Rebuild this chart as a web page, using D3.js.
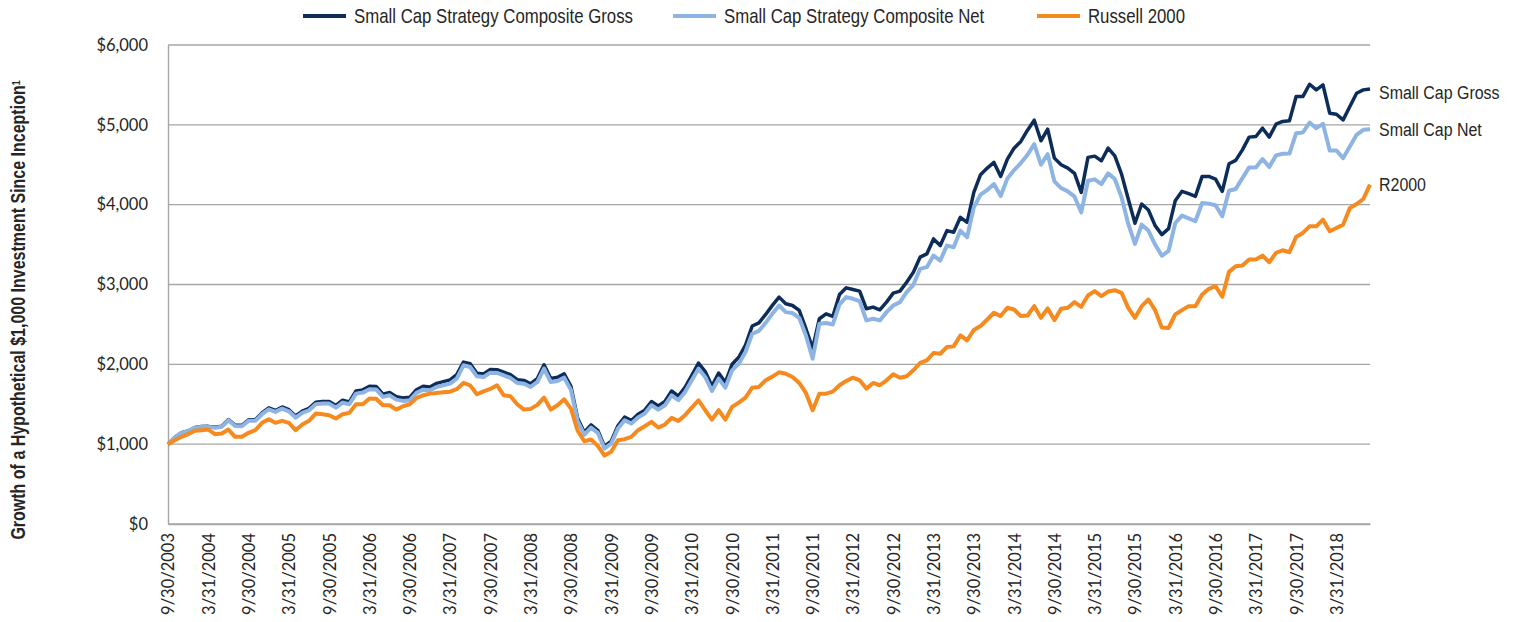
<!DOCTYPE html>
<html>
<head>
<meta charset="utf-8">
<script src="https://cdn.jsdelivr.net/npm/d3@7"></script>
<style>
  html, body { margin: 0; padding: 0; background: #fff; }
  svg { display: block; }
  .cond { font-family: "Liberation Sans", Arial, sans-serif; fill: #262626; }
  .tick text { font-family: Lato, "Open Sans", sans-serif; fill: #262626; }
</style>
</head>
<body>
<div id="chart"></div>
<script>
// ========== DATA ==========

// month-end categories, 9/30/2003 .. 8/31/2018
const fmtDate = d3.utcFormat('%-m/%-d/%Y');
const categories = d3.utcMonth.range(new Date(Date.UTC(2003, 8, 1)), new Date(Date.UTC(2018, 8, 1)))
  .map(m => fmtDate(d3.utcDay.offset(d3.utcMonth.offset(m, 1), -1)));

const tickLabels = [
  '9/30/2003', '3/31/2004', '9/30/2004', '3/31/2005', '9/30/2005', '3/31/2006',
  '9/30/2006', '3/31/2007', '9/30/2007', '3/31/2008', '9/30/2008', '3/31/2009',
  '9/30/2009', '3/31/2010', '9/30/2010', '3/31/2011', '9/30/2011', '3/31/2012',
  '9/30/2012', '3/31/2013', '9/30/2013', '3/31/2014', '9/30/2014', '3/31/2015',
  '9/30/2015', '3/31/2016', '9/30/2016', '3/31/2017', '9/30/2017', '3/31/2018'
];

const yTicks = [0, 1000, 2000, 3000, 4000, 5000, 6000];

const grossValues = [
  1000, 1084, 1144, 1165, 1208, 1222, 1223, 1211, 1225, 1309, 1239, 1236,
  1305, 1306, 1391, 1455, 1422, 1466, 1432, 1353, 1414, 1448, 1525, 1534,
  1535, 1485, 1550, 1529, 1666, 1680, 1724, 1723, 1627, 1648, 1594, 1578,
  1587, 1682, 1725, 1717, 1761, 1783, 1805, 1871, 2028, 2007, 1888, 1880,
  1936, 1933, 1903, 1870, 1807, 1799, 1757, 1821, 1993, 1823, 1837, 1880,
  1724, 1324, 1150, 1241, 1174, 973, 1037, 1231, 1339, 1296, 1374, 1426,
  1534, 1479, 1536, 1666, 1603, 1711, 1863, 2016, 1909, 1729, 1890, 1774,
  2000, 2088, 2241, 2480, 2520, 2625, 2738, 2842, 2758, 2737, 2675, 2446,
  2200, 2571, 2633, 2600, 2875, 2958, 2937, 2917, 2696, 2717, 2683, 2779,
  2892, 2917, 3029, 3154, 3342, 3383, 3571, 3488, 3675, 3654, 3842, 3779,
  4154, 4375, 4458, 4529, 4354, 4571, 4708, 4792, 4933, 5058, 4800, 4946,
  4583, 4500, 4458, 4392, 4154, 4592, 4608, 4550, 4708, 4612, 4383, 4071,
  3767, 4008, 3933, 3738, 3625, 3700, 4050, 4167, 4138, 4104, 4354, 4354,
  4321, 4167, 4512, 4554, 4687, 4846, 4854, 4958, 4846, 5008, 5042, 5050,
  5354, 5354, 5508, 5438, 5500, 5146, 5133, 5062, 5229, 5396, 5438, 5450
];

const netValues = [
  1000, 1083, 1142, 1163, 1204, 1217, 1217, 1204, 1217, 1300, 1229, 1225,
  1292, 1292, 1375, 1437, 1404, 1446, 1412, 1333, 1392, 1425, 1500, 1508,
  1508, 1458, 1521, 1500, 1633, 1646, 1688, 1686, 1592, 1612, 1558, 1542,
  1550, 1642, 1683, 1675, 1717, 1737, 1758, 1821, 1988, 1967, 1850, 1842,
  1896, 1892, 1862, 1829, 1767, 1758, 1717, 1779, 1946, 1779, 1792, 1833,
  1680, 1290, 1120, 1208, 1142, 946, 1008, 1196, 1300, 1258, 1333, 1383,
  1487, 1433, 1487, 1612, 1550, 1654, 1800, 1946, 1842, 1667, 1821, 1708,
  1925, 2008, 2154, 2383, 2420, 2520, 2633, 2737, 2654, 2642, 2583, 2362,
  2070, 2508, 2517, 2500, 2750, 2842, 2821, 2792, 2550, 2571, 2550, 2654,
  2737, 2779, 2904, 2996, 3196, 3217, 3362, 3300, 3487, 3467, 3675, 3592,
  3967, 4125, 4183, 4258, 4108, 4329, 4433, 4521, 4625, 4758, 4500, 4633,
  4292, 4208, 4167, 4100, 3904, 4300, 4317, 4258, 4392, 4321, 4092, 3758,
  3508, 3750, 3675, 3500, 3360, 3420, 3770, 3863, 3829, 3792, 4021, 4013,
  3992, 3854, 4175, 4196, 4333, 4467, 4467, 4571, 4471, 4617, 4637, 4640,
  4896, 4904, 5029, 4958, 5012, 4679, 4679, 4583, 4729, 4875, 4938, 4946
];

const russellValues = [
  1000, 1050, 1092, 1125, 1167, 1175, 1183, 1125, 1133, 1183, 1092, 1092,
  1142, 1175, 1267, 1313, 1267, 1292, 1267, 1175, 1246, 1292, 1383, 1375,
  1363, 1321, 1375, 1392, 1500, 1500, 1571, 1569, 1488, 1488, 1433, 1475,
  1500, 1579, 1612, 1633, 1642, 1650, 1658, 1688, 1767, 1737, 1625, 1662,
  1692, 1737, 1612, 1600, 1500, 1433, 1442, 1492, 1583, 1433, 1488, 1562,
  1446, 1170, 1037, 1058, 979, 858, 904, 1050, 1063, 1092, 1175, 1225,
  1279, 1208, 1246, 1329, 1292, 1363, 1458, 1550, 1425, 1308, 1425, 1308,
  1467, 1521, 1583, 1708, 1717, 1800, 1846, 1900, 1883, 1842, 1767, 1642,
  1425, 1633, 1633, 1658, 1738, 1792, 1833, 1800, 1696, 1767, 1738, 1800,
  1875, 1833, 1850, 1925, 2017, 2050, 2142, 2133, 2217, 2225, 2362, 2300,
  2430, 2479, 2562, 2646, 2604, 2708, 2687, 2604, 2612, 2729, 2583, 2700,
  2554, 2696, 2708, 2779, 2721, 2862, 2917, 2854, 2912, 2929, 2896, 2708,
  2583, 2729, 2812, 2679, 2460, 2455, 2625, 2679, 2729, 2729, 2875, 2946,
  2979, 2846, 3158, 3229, 3237, 3312, 3312, 3362, 3279, 3396, 3429, 3404,
  3596, 3646, 3729, 3729, 3812, 3667, 3708, 3750, 3958, 4008, 4071, 4250
];

const seriesNames = ['Small Cap Strategy Composite Gross', 'Small Cap Strategy Composite Net', 'Russell 2000'];
const endLabels = ['Small Cap Gross', 'Small Cap Net', 'R2000'];
const colors = ['#0c2c5a', '#8eb4e3', '#f68a1e'];

// ========== CHART ==========

const W = 1516, H = 622;
const margin = { top: 45, right: 146, bottom: 98, left: 168 };
const SQUEEZE = 0.84; // fake a condensed face

const svg = d3.select('#chart').append('svg').attr('width', W).attr('height', H);
svg.append('rect').attr('width', W).attr('height', H).attr('fill', '#fff');

const x = d3.scalePoint().domain(categories).range([margin.left, W - margin.right]);
const y = d3.scaleLinear().domain([0, 6000]).range([H - margin.bottom, margin.top]);

// Grid
svg.append('g').selectAll('line').data(yTicks).enter().append('line')
  .attr('x1', margin.left).attr('x2', W - margin.right)
  .attr('y1', d => y(d)).attr('y2', d => y(d))
  .attr('stroke', '#a6a6a6').attr('stroke-width', 1.4);

// Axes
const yAxis = svg.append('g').attr('transform', `translate(${margin.left},0)`)
  .call(d3.axisLeft(y).tickValues(yTicks).tickSize(0).tickPadding(20).tickFormat(d => '$' + d3.format(',')(d)));
yAxis.selectAll('text').style('font-size', '16.5px');
yAxis.select('.domain').attr('stroke', '#a6a6a6').attr('stroke-width', 1.4);

const xAxis = svg.append('g').attr('transform', `translate(0,${H - margin.bottom})`)
  .call(d3.axisBottom(x).tickValues(tickLabels).tickSize(0));
xAxis.select('.domain').attr('stroke', '#a6a6a6').attr('stroke-width', 1.4);
xAxis.selectAll('text')
  .attr('transform', 'rotate(-90)')
  .attr('text-anchor', 'end')
  .attr('x', -9).attr('y', 0).attr('dy', '0.36em')
  .style('font-size', '16.5px');

// Lines
const allSeries = [grossValues, netValues, russellValues];
const widths = [3.5, 4, 4];
const line = d3.line().x((d, i) => x(categories[i])).y(d => y(d));
allSeries.forEach((vals, k) => {
  svg.append('path').datum(vals)
    .attr('fill', 'none').attr('stroke', colors[k]).attr('stroke-width', widths[k])
    .attr('stroke-linejoin', 'round').attr('d', line);
});

// End labels
const endOffsets = [3, 0, 0];
allSeries.forEach((vals, k) => {
  svg.append('text').attr('class', 'cond')
    .attr('transform', `translate(${W - margin.right + 9},${y(vals[vals.length - 1]) + endOffsets[k]}) scale(${SQUEEZE},1)`)
    .attr('dy', '0.35em').text(endLabels[k])
    .style('font-size', '19px');
});

// Legend
const legendX = [303, 673, 1037];
const legend = svg.append('g').attr('transform', 'translate(0,16)');
seriesNames.forEach((name, k) => {
  legend.append('line').attr('x1', legendX[k]).attr('x2', legendX[k] + 43)
    .attr('y1', 0).attr('y2', 0).attr('stroke', colors[k]).attr('stroke-width', 4);
  legend.append('text').attr('class', 'cond')
    .attr('transform', `translate(${legendX[k] + 51},0) scale(${SQUEEZE},1)`)
    .attr('dy', '0.35em').text(name)
    .style('font-size', '20px');
});

// Y title
const title = svg.append('text').attr('class', 'cond')
  .attr('transform', `translate(18,310) rotate(-90) scale(0.8,1)`)
  .attr('text-anchor', 'middle').attr('dy', '0.35em')
  .style('font-size', '20px').style('font-weight', 'bold');
title.append('tspan').text('Growth of a Hypothetical $1,000 Investment Since Inception');
title.append('tspan').attr('dy', '-0.5em').style('font-size', '11px').text('1');
</script>
</body>
</html>
